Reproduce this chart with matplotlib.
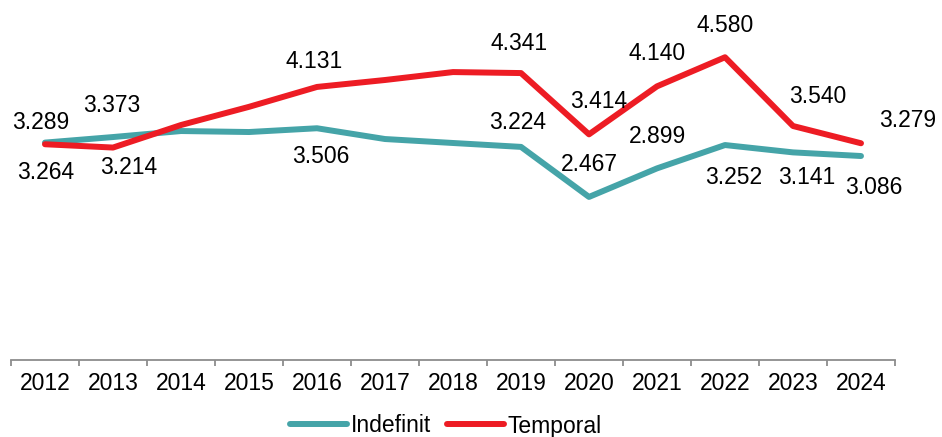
import matplotlib.pyplot as plt
import numpy as np

# data
years = ['2012', '2013', '2014', '2015', '2016', '2017', '2018',
         '2019', '2020', '2021', '2022', '2023', '2024']
indefinit = [3.289, 3.373, 3.464, 3.449, 3.506, 3.343, 3.283,
             3.224, 2.467, 2.899, 3.252, 3.141, 3.086]
temporal = [3.264, 3.214, 3.555, 3.83, 4.131, 4.236, 4.356,
            4.341, 3.414, 4.140, 4.580, 3.540, 3.279]

# which points carry a label, and where the label sits (pixels from point)
lab_indef = {0: (-4, 20), 1: (-1, 32), 4: (4, -28), 7: (-3, 24), 8: (0, 32),
             9: (0, 32), 10: (9, -32), 11: (14, -25), 12: (13, -31)}
lab_temp = {0: (1, -28), 1: (16, -20), 4: (-3, 25), 7: (-2, 30), 8: (10, 33),
            9: (0, 33), 10: (0, 32), 11: (25, 30), 12: (47, 23)}

teal = '#45A4A8'
red = '#ED1C24'

plt.rcParams['font.family'] = ['Liberation Sans', 'DejaVu Sans']
fs = 16.5

fig = plt.figure(figsize=(9.42, 4.37), dpi=100)
ax = fig.add_axes([11/942, 1-360/437, (895-11)/942, 330.5/437])

x = np.arange(len(years))
ax.plot(x, indefinit, color=teal, lw=4.3, solid_capstyle='round', label='Indefinit')
ax.plot(x, temporal, color=red, lw=4.3, solid_capstyle='round', label='Temporal')

def put_labels(vals, offs):
    for i, (dx, dy) in offs.items():
        ax.annotate(f'{vals[i]:.3f}', (x[i], vals[i]), xytext=(dx, dy),
                    textcoords='offset pixels', ha='center', va='center',
                    fontsize=fs, color='black')

put_labels(indefinit, lab_indef)
put_labels(temporal, lab_temp)

ax.set_xlim(-0.5, len(years)-0.5)
ax.set_ylim(0, 5)
ax.set_yticks([])
ax.set_xticks(x)
ax.set_xticklabels(years, fontsize=fs)
ax.set_xticks(np.arange(-0.5, len(years)), minor=True)
ax.tick_params(axis='x', which='major', length=0, pad=9)
ax.tick_params(axis='x', which='minor', length=4, width=1.3, color='#8c8c8c', direction='out')
for s in ['left', 'right', 'top']:
    ax.spines[s].set_visible(False)
ax.spines['bottom'].set_color('#8c8c8c')
ax.spines['bottom'].set_linewidth(1.3)

fig.legend(loc='center', bbox_to_anchor=(446/942, 1-426/437), ncol=2, frameon=False,
           fontsize=fs, handlelength=2.5, handletextpad=0.15, columnspacing=0.7)

fig.savefig('out.png', dpi=100)
